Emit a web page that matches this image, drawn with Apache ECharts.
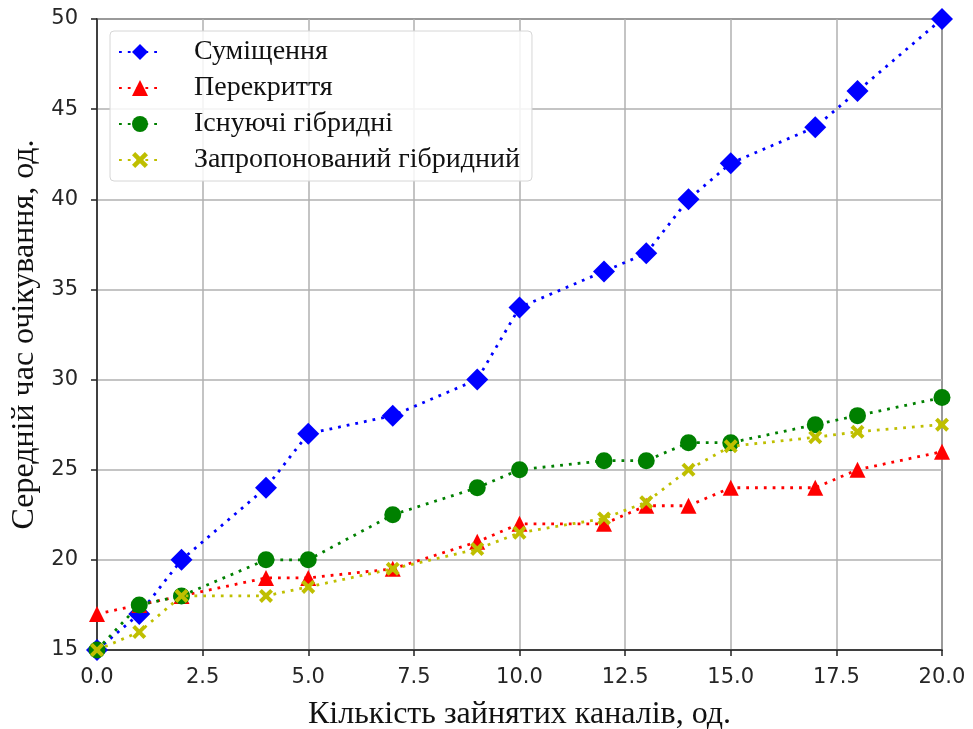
<!DOCTYPE html>
<html>
<head>
<meta charset="utf-8">
<script src="https://cdn.jsdelivr.net/npm/echarts@6/dist/echarts.min.js"></script>
<style>html,body{margin:0;padding:0;background:#fff;}#c{width:973px;height:729px;}</style>
</head>
<body>
<div id="c"></div>
<script>
const xValues = [0, 1, 2, 4, 5, 7, 9, 10, 12, 13, 14, 15, 17, 18, 20];
const seriesNames = ['Суміщення', 'Перекриття', 'Існуючі гібридні', 'Запропонований гібридний'];
const combined = [15, 17, 20, 24, 27, 28, 30, 34, 36, 37, 40, 42, 44, 46, 50];
const overlap = [17, 17.5, 18, 19, 19, 19.5, 21, 22, 22, 23, 23, 24, 24, 25, 26];
const existingHybrid = [15, 17.5, 18, 20, 20, 22.5, 24, 25, 25.5, 25.5, 26.5, 26.5, 27.5, 28, 29];
const proposedHybrid = [15, 16, 18, 18, 18.5, 19.5, 20.6, 21.5, 22.3, 23.2, 25, 26.3, 26.8, 27.1, 27.5];
const xTicks = [0, 2.5, 5, 7.5, 10, 12.5, 15, 17.5, 20];
const yTicks = [15, 20, 25, 30, 35, 40, 45, 50];

const pair = arr => xValues.map((x, i) => [x, arr[i]]);
const xSymbol = 'path://M2,0 L5,3 L8,0 L10,2 L7,5 L10,8 L8,10 L5,7 L2,10 L0,8 L3,5 L0,2 Z';

function mk(name, data, color, symbol, size, z) {
  return {
    name, type: 'line', data: pair(data), z,
    symbol, symbolSize: size,
    itemStyle: { color },
    lineStyle: { color, width: 2.8, type: [2.8, 6] },
    emphasis: { disabled: true }
  };
}

const chart = echarts.init(document.getElementById('c'));
chart.setOption({
  animation: false,
  backgroundColor: '#fff',
  grid: { left: 97, right: 31, top: 19, bottom: 79, containLabel: false, outerBoundsMode: 'none', show: true, borderColor: '#222', borderWidth: 1.5, backgroundColor: 'transparent' },
  legend: {
    data: seriesNames,
    orient: 'vertical',
    left: 110, top: 31,
    padding: [6, 12, 6, 8],
    itemWidth: 42, itemHeight: 20, itemGap: 6,
    backgroundColor: 'rgba(255,255,255,0.85)',
    borderColor: '#d6d6d6', borderWidth: 1, borderRadius: 4,
    textStyle: { fontFamily: 'Liberation Serif, serif', fontSize: 28, lineHeight: 30, color: '#111', padding: [0, 0, 0, 28] }
  },
  xAxis: {
    type: 'value', min: 0, max: 20, interval: 2.5,
    name: 'Кількість зайнятих каналів, од.', nameLocation: 'middle', nameGap: 49,
    nameTextStyle: { fontFamily: 'Liberation Serif, serif', fontSize: 32, color: '#111', verticalAlign: 'top' },
    axisLine: { show: true, onZero: false, lineStyle: { color: '#222', width: 1.5 } },
    axisTick: { show: true, length: 6, lineStyle: { color: '#222', width: 1.5 } },
    axisLabel: { margin: 17, fontFamily: 'DejaVu Sans, sans-serif', fontSize: 21, color: '#262626', formatter: v => xTicks.includes(v) ? v.toFixed(1) : '' },
    splitLine: { show: true, lineStyle: { color: '#b0b0b0', width: 1.5 } }
  },
  yAxis: {
    type: 'value', min: 15, max: 50, interval: 5,
    name: 'Середній час очікування, од.', nameLocation: 'middle', nameGap: 43,
    nameTextStyle: { fontFamily: 'Liberation Serif, serif', fontSize: 32, color: '#111', verticalAlign: 'bottom' },
    axisLine: { show: true, onZero: false, lineStyle: { color: '#222', width: 1.5 } },
    axisTick: { show: true, length: 6, lineStyle: { color: '#222', width: 1.5 } },
    axisLabel: { margin: 19, fontFamily: 'DejaVu Sans, sans-serif', fontSize: 21, color: '#262626', formatter: v => yTicks.includes(v) ? String(v) : '' },
    splitLine: { show: true, lineStyle: { color: '#b0b0b0', width: 1.5 } }
  },
  series: [
    mk(seriesNames[0], combined, '#0000ff', 'diamond', 22, 2),
    mk(seriesNames[1], overlap, '#ff0000', 'triangle', 16, 3),
    mk(seriesNames[2], existingHybrid, '#008000', 'circle', 17, 4),
    mk(seriesNames[3], proposedHybrid, '#bfbf00', xSymbol, 14, 5)
  ]
});
</script>
</body>
</html>
